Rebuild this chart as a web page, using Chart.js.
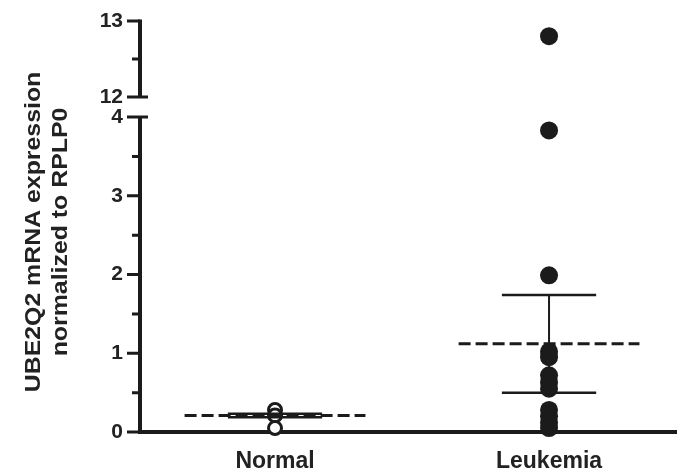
<!DOCTYPE html>
<html><head><meta charset="utf-8">
<script src="https://cdn.jsdelivr.net/npm/chart.js@4.4.0/dist/chart.umd.min.js"></script>
<style>html,body{margin:0;padding:0;background:#fff;}#wrap{width:677px;height:472px;position:relative;}</style>
</head><body><div id="wrap"><canvas id="c"></canvas></div>
<script>
// ---- data ----
const categories = ['Normal', 'Leukemia'];
const normalValues = [0.28, 0.21, 0.05];
const leukemiaValues = [12.8, 3.83, 1.99, 1.02, 0.95, 0.72, 0.63, 0.55, 0.28, 0.2, 0.12, 0.05];
const groupMeans = [0.21, 1.12];
const groupSDs = [0.022, 0.62];
const yTicksLow = [0, 1, 2, 3, 4];
const yTicksHigh = [12, 13];
const yMinorTicks = [0.5, 1.5, 2.5, 3.5, 12.5];
const yTitleLines = ['UBE2Q2 mRNA expression', 'normalized to RPLP0'];

// ---- broken y scale ----
const BREAK_LOW = 4, BREAK_HIGH = 12;
const LOW_FRAC = 315 / 411, GAP_FRAC = 20 / 411;
class BrokenLinearScale extends Chart.LinearScale {
  getPixelForValue(v) {
    if (v === null || v === undefined || isNaN(v)) return NaN;
    const top = this.top, bottom = this.bottom, h = bottom - top;
    const lowH = h * LOW_FRAC, gapH = h * GAP_FRAC, highH = h - lowH - gapH;
    if (v <= BREAK_LOW) return bottom - (v - this.min) / (BREAK_LOW - this.min) * lowH;
    if (v >= BREAK_HIGH) return top + (this.max - v) / (this.max - BREAK_HIGH) * highH;
    return bottom - lowH - (v - BREAK_LOW) / (BREAK_HIGH - BREAK_LOW) * gapH;
  }
  getValueForPixel(p) {
    const top = this.top, bottom = this.bottom, h = bottom - top;
    const lowH = h * LOW_FRAC, gapH = h * GAP_FRAC, highH = h - lowH - gapH;
    if (p >= bottom - lowH) return this.min + (bottom - p) / lowH * (BREAK_LOW - this.min);
    if (p <= top + highH) return this.max - (p - top) / highH * (this.max - BREAK_HIGH);
    return BREAK_LOW + (bottom - lowH - p) / gapH * (BREAK_HIGH - BREAK_LOW);
  }
}
BrokenLinearScale.id = 'brokenLinear';
BrokenLinearScale.defaults = Chart.LinearScale.defaults;
Chart.register(BrokenLinearScale);

const INK = '#1b1b1b';
const MEAN_HALF = 0.33, SD_HALF = 0.172;

const datasets = [];
datasets.push({
  type: 'scatter', label: categories[1],
  data: leukemiaValues.map(v => ({x: 1, y: v})),
  pointStyle: 'circle', pointRadius: 9, pointHoverRadius: 9,
  backgroundColor: INK, borderColor: INK, borderWidth: 0, clip: false
});
groupMeans.forEach((m, i) => {
  const sd = groupSDs[i];
  datasets.push({type: 'line', data: [{x: i - MEAN_HALF, y: m}, {x: i + MEAN_HALF, y: m}],
    borderColor: INK, borderWidth: 3, borderDash: [12, 5], pointRadius: 0, clip: false});
  datasets.push({type: 'line', data: [{x: i - SD_HALF, y: m + sd}, {x: i + SD_HALF, y: m + sd}],
    borderColor: INK, borderWidth: 2.5, pointRadius: 0, clip: false});
  datasets.push({type: 'line', data: [{x: i - SD_HALF, y: m - sd}, {x: i + SD_HALF, y: m - sd}],
    borderColor: INK, borderWidth: 2.5, pointRadius: 0, clip: false});
  datasets.push({type: 'line', data: [{x: i, y: m + sd}, {x: i, y: m - sd}],
    borderColor: INK, borderWidth: 2, pointRadius: 0, clip: false});
});
// open circles drawn beneath the summary lines
datasets.push({
  type: 'scatter', label: categories[0],
  data: normalValues.map(v => ({x: 0, y: v})),
  pointStyle: 'circle', pointRadius: 6.5, pointHoverRadius: 6.5,
  backgroundColor: '#ffffff', borderColor: INK, borderWidth: 3, clip: false
});

const axisPlugin = {
  id: 'brokenAxis',
  afterDraw(chart) {
    const ctx = chart.ctx, y = chart.scales.y, x0 = chart.chartArea.left;
    ctx.save();
    ctx.strokeStyle = INK; ctx.lineCap = 'butt';
    ctx.lineWidth = 4;
    ctx.beginPath();
    ctx.moveTo(x0, y.getPixelForValue(yTicksHigh[yTicksHigh.length - 1]) - 1.5);
    ctx.lineTo(x0, y.getPixelForValue(yTicksHigh[0]));
    ctx.moveTo(x0, y.getPixelForValue(yTicksLow[yTicksLow.length - 1]));
    ctx.lineTo(x0, y.getPixelForValue(yTicksLow[0]));
    ctx.stroke();
    ctx.lineWidth = 3;
    ctx.beginPath();
    yTicksLow.concat(yTicksHigh).forEach(v => {
      const p = y.getPixelForValue(v);
      const capped = (v === BREAK_LOW || v === BREAK_HIGH);
      ctx.moveTo(x0 - 13, p); ctx.lineTo(capped ? x0 + 8 : x0, p);
    });
    yMinorTicks.forEach(v => {
      const p = y.getPixelForValue(v);
      ctx.moveTo(x0 - 8, p); ctx.lineTo(x0, p);
    });
    ctx.stroke();
    // y title
    ctx.fillStyle = '#222';
    ctx.font = 'bold 22px "Liberation Sans", Arial, sans-serif';
    ctx.textAlign = 'center'; ctx.textBaseline = 'middle';
    const cy = 232, xs = [34, 61];
    yTitleLines.forEach((t, i) => {
      ctx.save(); ctx.translate(xs[i], cy); ctx.rotate(-Math.PI / 2);
      ctx.scale(1.13, 1);
      ctx.fillText(t, 0, 0); ctx.restore();
    });
    ctx.restore();
  }
};

new Chart(document.getElementById('c'), {
  type: 'scatter',
  data: {datasets},
  options: {
    responsive: true, maintainAspectRatio: false, animation: false,
    layout: {autoPadding: false, padding: {top: 21, left: 0, right: 0, bottom: 0}},
    plugins: {legend: {display: false}, tooltip: {enabled: false}},
    scales: {
      x: {
        type: 'linear', min: -0.4927, max: 1.467,
        grid: {display: false, drawTicks: false},
        border: {display: true, color: INK, width: 4},
        afterBuildTicks: s => { s.ticks = categories.map((c, i) => ({value: i})); },
        afterFit: s => { s.height = 40; s.paddingLeft = 0; s.paddingRight = 0; },
        ticks: {
          autoSkip: false, maxRotation: 0, padding: 16, color: '#222',
          font: {family: '"Liberation Sans", Arial, sans-serif', size: 23, weight: 'bold'},
          callback: v => categories[v]
        }
      },
      y: {
        type: 'brokenLinear', min: 0, max: 13,
        grid: {display: false, drawTicks: false},
        border: {display: false},
        afterBuildTicks: s => { s.ticks = yTicksLow.concat(yTicksHigh).map(v => ({value: v})); },
        afterFit: s => { s.width = 140; s.paddingTop = 0; s.paddingBottom = 0; },
        ticks: {
          autoSkip: false, padding: 17, color: '#222',
          font: {family: '"Liberation Sans", Arial, sans-serif', size: 21, weight: 'bold'},
          callback: v => String(v)
        }
      }
    }
  },
  plugins: [axisPlugin]
});
</script>
</body></html>
